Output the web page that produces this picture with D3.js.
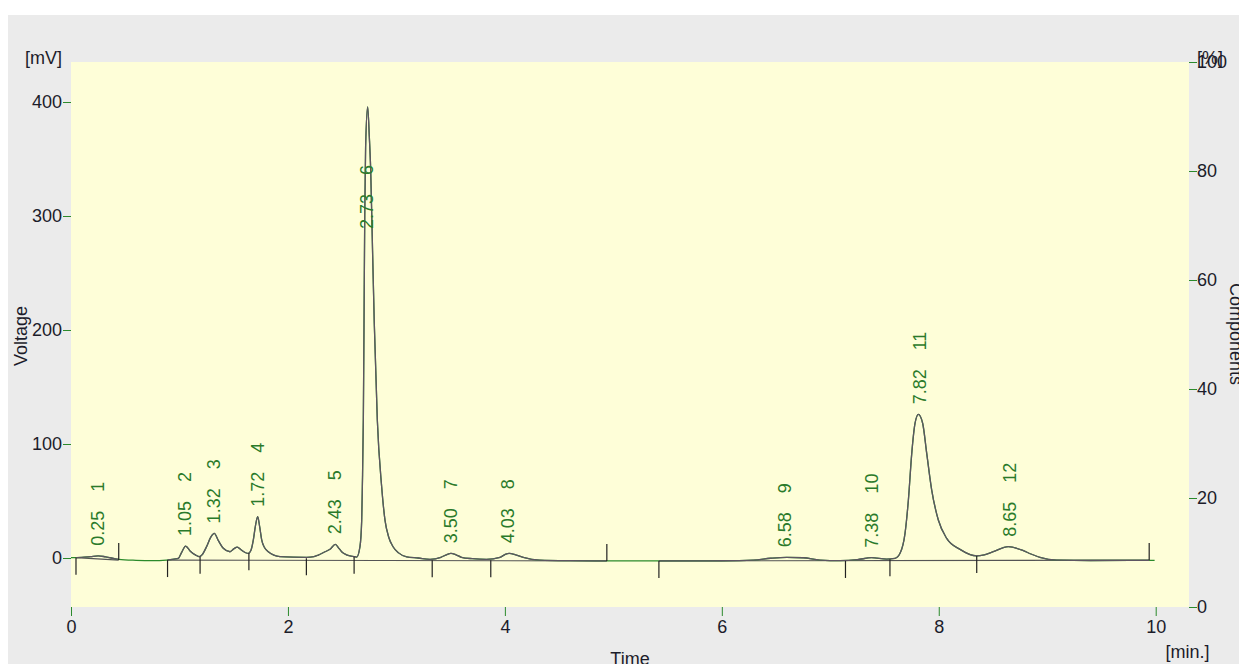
<!DOCTYPE html>
<html><head><meta charset="utf-8">
<script src="https://cdn.jsdelivr.net/npm/d3@7"></script>
<style>html,body{margin:0;padding:0;background:#fff;overflow:hidden}svg{display:block}</style>
</head><body>
<svg id="c" width="1239" height="664"></svg>
<script>
// ---- data ----
const times = [0.00,0.10,0.18,0.25,0.32,0.44,0.60,0.75,0.88,0.95,0.99,1.02,1.057,1.10,1.15,1.183,1.21,1.25,1.29,1.321,1.36,1.404,1.466,1.50,1.533,1.57,1.61,1.635,1.66,1.681,1.70,1.721,1.74,1.758,1.785,1.819,1.87,1.927,2.05,2.173,2.24,2.28,2.342,2.388,2.437,2.47,2.495,2.54,2.572,2.618,2.634,2.664,2.680,2.686,2.695,2.701,2.708,2.716,2.735,2.750,2.763,2.780,2.796,2.824,2.864,2.895,2.930,2.969,3.02,3.095,3.20,3.31,3.41,3.46,3.503,3.55,3.60,3.70,3.83,3.955,4.00,4.04,4.10,4.17,4.32,4.60,5.00,5.50,6.00,6.29,6.45,6.598,6.75,6.905,7.09,7.25,7.38,7.52,7.597,7.643,7.689,7.72,7.751,7.781,7.812,7.852,7.889,7.935,7.996,8.073,8.196,8.35,8.42,8.503,8.641,8.78,8.85,8.933,9.087,9.40,9.99];
const volts = [0.3,0.5,1.2,1.9,1.0,-1.2,-2.0,-2.3,-1.8,-1.0,-0.3,5,10.5,6,2.5,1.2,3,10,18.5,21.6,15,8.5,5.5,8,9.6,7,4.6,4.1,7,15.8,28,36.2,27,15.8,9,5.5,2.6,1.2,0.7,0.6,1.2,2.6,5.5,7.6,12,8.5,5.5,2.8,1.8,1.2,0.8,9.9,33,62.5,121,200,300,360,395.6,370,340,270,206,121,62.5,33,18,9.9,4.5,1.0,0,-1.2,0.6,2.8,4.1,2.8,0.6,-0.6,-1.2,0.6,3,4.1,2.8,0.6,-1.8,-2.3,-2.5,-2.6,-2.4,-1.8,-0.2,0.6,0.2,-1.8,-2.3,-1.5,0.3,-0.9,-0.3,4.1,21.6,50.9,91.8,118,126,118,91.8,59.6,33.3,17.2,7.6,1.8,2.8,5.5,9.9,6.4,3.5,0.6,-1.8,-2.2,-2.0];

const peakRT = [0.25,1.05,1.32,1.72,2.43,2.73,3.50,4.03,6.58,7.38,7.82,8.65];
const peakNo = [1,2,3,4,5,6,7,8,9,10,11,12];

const markerTimes  = [0.046,0.44,0.89,1.19,1.64,2.17,2.61,3.33,3.87,4.94,5.42,7.14,7.55,8.35,9.94];
const markerLevels = [0.3,-1.8,-1.8,1.2,4.1,-0.3,1.2,-2.0,-2.0,-2.6,-2.6,-2.6,-1.2,1.8,-1.8];
const markerUp     = [false,true,false,false,false,false,false,false,false,true,false,false,false,false,true];

const xTicks = [0,2,4,6,8,10];
const yTicks = [0,100,200,300,400];
const rTicks = [0,20,40,60,80,100];

// ---- layout / style ----
const FONT = '"Liberation Sans", Arial, sans-serif';
const W = 1239, H = 664;
const plot = {left:71, right:1189, top:62, bottom:607};
const GREEN = '#2b8a2b', LABEL = '#2a7a2a', INK = '#1c1c2a', TRACE = '#5d5562';

const svg = d3.select('#c');
svg.append('rect').attr('x',8).attr('y',15).attr('width',W-8).attr('height',H-15).attr('fill','#ebebeb');
svg.append('rect').attr('x',plot.left).attr('y',plot.top)
   .attr('width',plot.right-plot.left).attr('height',plot.bottom-plot.top).attr('fill','#fefed8');

const x = d3.scaleLinear().domain([0,10]).range([71,1155.7]);
const y = d3.scaleLinear().domain([0,400]).range([558,102]);
const yR = d3.scaleLinear().domain([0,100]).range([plot.bottom,plot.top]);

function styleAxis(g){
  g.attr('font-family',FONT).attr('font-size',18);
  g.select('.domain').remove();
  g.selectAll('line').attr('stroke',GREEN).attr('stroke-width',1);
  g.selectAll('text').attr('fill',INK);
}
svg.append('g').attr('transform',`translate(${plot.left},0)`)
   .call(d3.axisLeft(y).tickValues(yTicks).tickSize(8).tickPadding(1)).call(styleAxis);
svg.append('g').attr('transform',`translate(${plot.right},0)`)
   .call(d3.axisRight(yR).tickValues(rTicks).tickSize(8).tickPadding(0)).call(styleAxis);
svg.append('g').attr('transform',`translate(0,${plot.bottom})`)
   .call(d3.axisBottom(x).tickValues(xTicks).tickSize(9).tickPadding(4)).call(styleAxis);

// groups of integrated peaks, from markers
const groups = [];
let cur = null;
markerTimes.forEach((t,i)=>{
  if(cur===null){ cur = {s:t, sl:markerLevels[i]}; }
  if(markerUp[i]){ cur.e = t; cur.el = markerLevels[i]; groups.push(cur); cur = null; }
});

const defs = svg.append('defs');
const cp = defs.append('clipPath').attr('id','pk');
groups.forEach(g=>cp.append('rect').attr('x',x(g.s)).attr('y',0).attr('width',x(g.e)-x(g.s)).attr('height',H));

const pts = times.map((t,i)=>[t,volts[i]]);
const line = d3.line().x(d=>x(d[0])).y(d=>y(d[1])).curve(d3.curveMonotoneX);

// integration baselines
groups.forEach(g=>{
  svg.append('line').attr('x1',x(g.s)).attr('x2',x(g.e)).attr('y1',y(g.sl)).attr('y2',y(g.el))
     .attr('stroke','#555').attr('stroke-width',1.2);
});

svg.append('path').datum(pts).attr('d',line).attr('fill','none').attr('stroke',GREEN).attr('stroke-width',1.3);
svg.append('path').datum(pts).attr('d',line).attr('fill','none').attr('stroke',TRACE).attr('stroke-width',1.3)
   .attr('clip-path','url(#pk)');

// peak start/end markers
markerTimes.forEach((t,i)=>{
  const y0 = y(markerLevels[i]);
  svg.append('line').attr('x1',x(t)).attr('x2',x(t)).attr('y1',y0).attr('y2',y0 + (markerUp[i]?-17:17))
     .attr('stroke','#222').attr('stroke-width',1.2);
});

// peak labels
peakRT.forEach((rt,i)=>{
  let top = -Infinity;
  pts.forEach(p=>{ if(Math.abs(p[0]-rt)<=0.05 && p[1]>top) top = p[1]; });
  const by = Math.max(y(top)-10, 229);
  const t = svg.append('text').attr('transform',`translate(${x(rt)},${by}) rotate(-90)`)
    .attr('font-family',FONT).attr('font-size',18).attr('fill',LABEL).attr('dy','0.35em');
  t.append('tspan').text(rt.toFixed(2));
  t.append('tspan').attr('dx',19).text(peakNo[i]);
});

// axis titles
function txt(s,tx,ty,anchor,rot){
  svg.append('text').attr('transform',`translate(${tx},${ty})`+(rot?` rotate(${rot})`:''))
    .attr('text-anchor',anchor).attr('font-family',FONT).attr('font-size',18).attr('fill',INK).text(s);
}
txt('[mV]',62,63.5,'end');
txt('[%]',1197,63.5,'start');
txt('[min.]',1187.5,658,'middle');
txt('Time',630,665,'middle');
txt('Voltage',27,336,'middle',-90);
txt('Components',1230,334,'middle',90);
</script>
</body></html>
